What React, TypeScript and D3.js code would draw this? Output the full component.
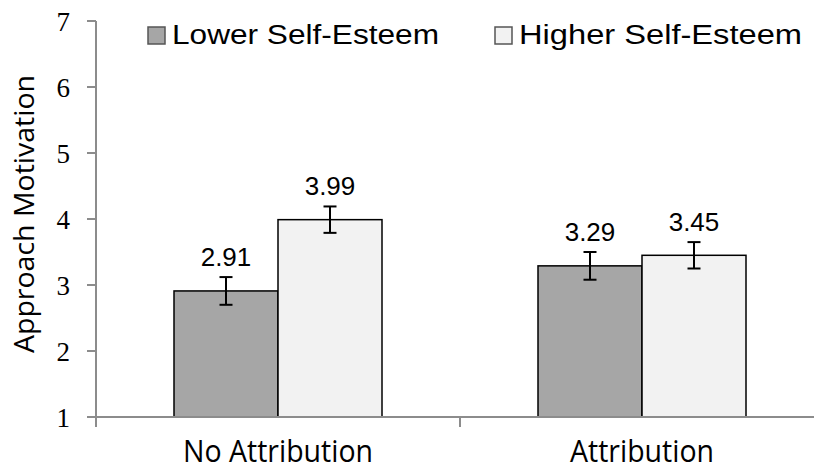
import React from "react";
import * as d3 from "d3";

const categories = ["No Attribution", "Attribution"];
const series = ["Lower Self-Esteem", "Higher Self-Esteem"];
const lowerValues = [2.91, 3.29];
const higherValues = [3.99, 3.45];
const lowerErrors = [0.21, 0.21];
const higherErrors = [0.2, 0.2];
const yTicks = [1, 2, 3, 4, 5, 6, 7];

const W = 814;
const H = 470;
const colors = ["#a6a6a6", "#f2f2f2"];

export default function App() {
  const x0 = d3.scaleBand<string>().domain(categories).range([96, 824]).paddingInner(0).paddingOuter(0);
  const x1 = d3.scaleBand<string>().domain(series).range([0, x0.bandwidth()]).paddingInner(0).paddingOuter(0.75);
  const y = d3.scaleLinear().domain([1, 7]).range([417, 21]);
  const values = [lowerValues, higherValues];
  const errors = [lowerErrors, higherErrors];
  const sans = "'Liberation Sans', Arial, sans-serif";
  const open = "'Open Sans', sans-serif";
  const serif = "'Liberation Serif', 'Times New Roman', serif";
  const boundaries = [...categories.map((c) => x0(c) as number), (x0(categories[1]) as number) + x0.bandwidth()];
  const legendX = [148, 495];
  const legendLen = [267, 283];

  return (
    <svg width={W} height={H} style={{ position: "absolute", left: 0, top: 0 }}>
      <rect width={W} height={H} fill="#fff" />
      {yTicks.map((t) => (
        <g key={t}>
          <line x1={87} x2={96} y1={y(t)} y2={y(t)} stroke="#8c8c8c" strokeWidth={2} />
          <text x={70} y={y(t) + 10} textAnchor="end" fontFamily={serif} fontSize={27} fill="#000">
            {t}
          </text>
        </g>
      ))}
      {categories.map((c, ci) =>
        series.map((s, si) => {
          const bx = (x0(c) as number) + (x1(s) as number);
          const v = values[si][ci];
          const e = errors[si][ci];
          const cx = bx + x1.bandwidth() / 2;
          return (
            <g key={c + s}>
              <rect x={bx} y={y(v)} width={x1.bandwidth()} height={y(1) - y(v)} fill={colors[si]} stroke="#000" strokeWidth={1.5} />
              <line x1={cx} x2={cx} y1={y(v + e)} y2={y(v - e)} stroke="#000" strokeWidth={2} />
              <line x1={cx - 6.5} x2={cx + 6.5} y1={y(v + e)} y2={y(v + e)} stroke="#000" strokeWidth={2} />
              <line x1={cx - 6.5} x2={cx + 6.5} y1={y(v - e)} y2={y(v - e)} stroke="#000" strokeWidth={2} />
              <text x={cx} y={y(v + e) - 11} textAnchor="middle" fontFamily={sans} fontSize={26} fill="#000">
                {v.toFixed(2)}
              </text>
            </g>
          );
        })
      )}
      <line x1={96} x2={96} y1={y(7)} y2={427} stroke="#8c8c8c" strokeWidth={2} />
      <line x1={96} x2={W} y1={y(1)} y2={y(1)} stroke="#8c8c8c" strokeWidth={2} />
      {boundaries.map((b, i) => (
        <line key={i} x1={b} x2={b} y1={y(1)} y2={427} stroke="#8c8c8c" strokeWidth={2} />
      ))}
      {categories.map((c) => (
        <g key={c} transform={`translate(${(x0(c) as number) + x0.bandwidth() / 2}, 462) scale(0.92, 1)`}>
          <text x={0} y={0} textAnchor="middle" fontFamily={open} fontSize={31} fill="#000">
            {c}
          </text>
        </g>
      ))}
      <text
        transform={`translate(34, 214) rotate(-90)`}
        textAnchor="middle"
        fontFamily={open}
        fontSize={27}
        textLength={278}
        lengthAdjust="spacingAndGlyphs"
        fill="#000"
      >
        Approach Motivation
      </text>
      {series.map((s, i) => {
        const lx = legendX[i];
        return (
          <g key={s}>
            <rect x={lx} y={27} width={17} height={17} fill={colors[i]} stroke="#555" strokeWidth={1.5} />
            <text
              x={lx + 24}
              y={44}
              fontFamily={sans}
              fontSize={27}
              textLength={legendLen[i]}
              lengthAdjust="spacingAndGlyphs"
              fill="#000"
            >
              {s}
            </text>
          </g>
        );
      })}
    </svg>
  );
}
